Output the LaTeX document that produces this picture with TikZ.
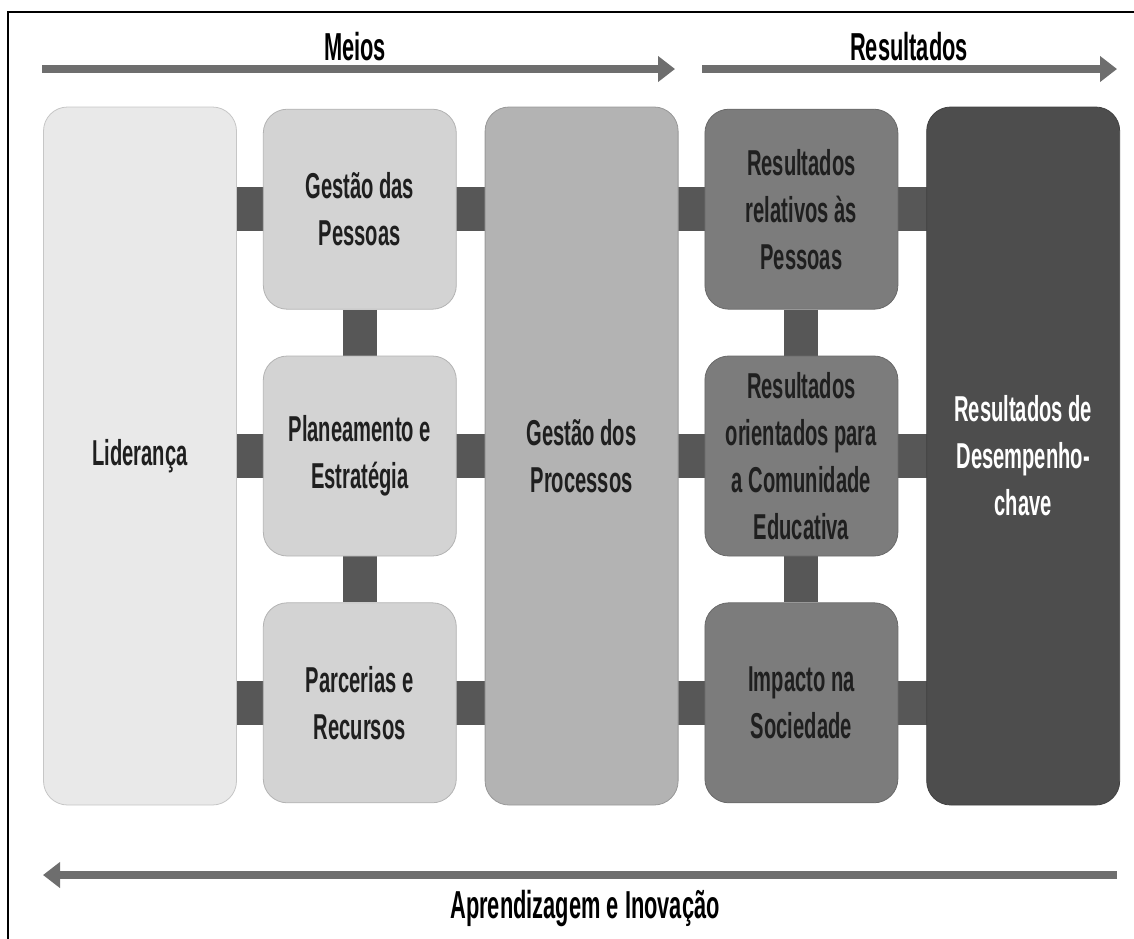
\documentclass[tikz,border=0pt]{standalone}
\usepackage{fontspec}
\usepackage{xcolor}
\usepackage{tikz}
\usetikzlibrary{arrows.meta,positioning,backgrounds}

\newfontfamily\agency[FakeStretch=0.56]{Liberation Sans}
\definecolor{lidfill}{HTML}{E9E9E9}
\definecolor{meiofill}{HTML}{D3D3D3}
\definecolor{procfill}{HTML}{B3B3B3}
\definecolor{resfill}{HTML}{7C7C7C}
\definecolor{chavefill}{HTML}{4D4D4D}
\definecolor{linkgray}{HTML}{575757}
\definecolor{flowgray}{HTML}{6E6E6E}

\begin{document}
\begin{tikzpicture}[
  x=1pt, y=1pt,
  font=\agency\bfseries\fontsize{36}{47}\selectfont,
  box/.style={rounded corners=24pt, minimum width=193pt, align=center,
              inner sep=0pt, text=black!88, line width=0.8pt},
  tone/.style={fill=#1, draw=#1!85!black},
  tall/.style={box, minimum height=698pt},
  small/.style={box, minimum height=200pt},
  link/.style={draw=linkgray, line width=44pt},
  vlink/.style={draw=linkgray, line width=34pt},
  flow/.style={draw=flowgray, line width=8pt, -{Triangle[length=17pt, width=25pt]}},
  title/.style={font=\agency\bfseries\fontsize{39}{47}\selectfont, anchor=base},
  node distance=46pt and 26pt,
]
\useasboundingbox (0,0) rectangle (1134,-938);

% ---------- frame ----------
\draw[line width=2pt] (8,-940) -- (8,-12) -- (1136,-12);

% ---------- meios ----------
\node[tall, tone=lidfill] (lid) at (140,-456) {Liderança};
\node[small, tone=meiofill, right=26pt of lid] (pe) {Planeamento e\\Estratégia};
\node[small, tone=meiofill, above=of pe] (gp) {Gestão das\\Pessoas};
\node[small, tone=meiofill, below=of pe] (pr) {Parcerias e\\Recursos};
\node[tall, tone=procfill, right=28pt of pe] (gdp) {Gestão dos\\Processos};

% ---------- resultados ----------
\node[small, tone=resfill, right=26pt of gdp] (roc) {Resultados\\orientados para\\a Comunidade\\Educativa};
\node[small, tone=resfill, above=of roc] (rrp) {Resultados\\relativos às\\Pessoas};
\node[small, tone=resfill, below=of roc] (ims) {Impacto na\\Sociedade};
\node[tall, tone=chavefill, text=white, right=28pt of roc] (rdc) {Resultados de\\Desempenho-\\chave};

% ---------- connectors ----------
\begin{scope}[on background layer]
  \foreach \s in {gp,pe,pr} \draw[link] (lid.center |- \s.center) -- (gdp.center |- \s.center);
  \foreach \s in {rrp,roc,ims} \draw[link] (gdp.center |- \s.center) -- (rdc.center |- \s.center);
  \draw[vlink] (gp) -- (pr);
  \draw[vlink] (rrp) -- (ims);
\end{scope}

% ---------- arrows ----------
\coordinate (m0) at (42,-69);
\coordinate (m1) at (675,-69);
\coordinate (r0) at (702,-69);
\coordinate (r1) at (1117,-69);
\coordinate (a0) at (1117,-875);
\coordinate (a1) at (43,-875);
\draw[flow] (m0) -- (m1);
\draw[flow] (r0) -- (r1);
\draw[flow] (a0) -- (a1);
\node[title] (meios) at (355,-60) {Meios};
\node[title] (result) at (909,-60) {Resultados};
\node[title] (aprend) at (585,-918) {Aprendizagem e Inovação};

\end{tikzpicture}
\end{document}
